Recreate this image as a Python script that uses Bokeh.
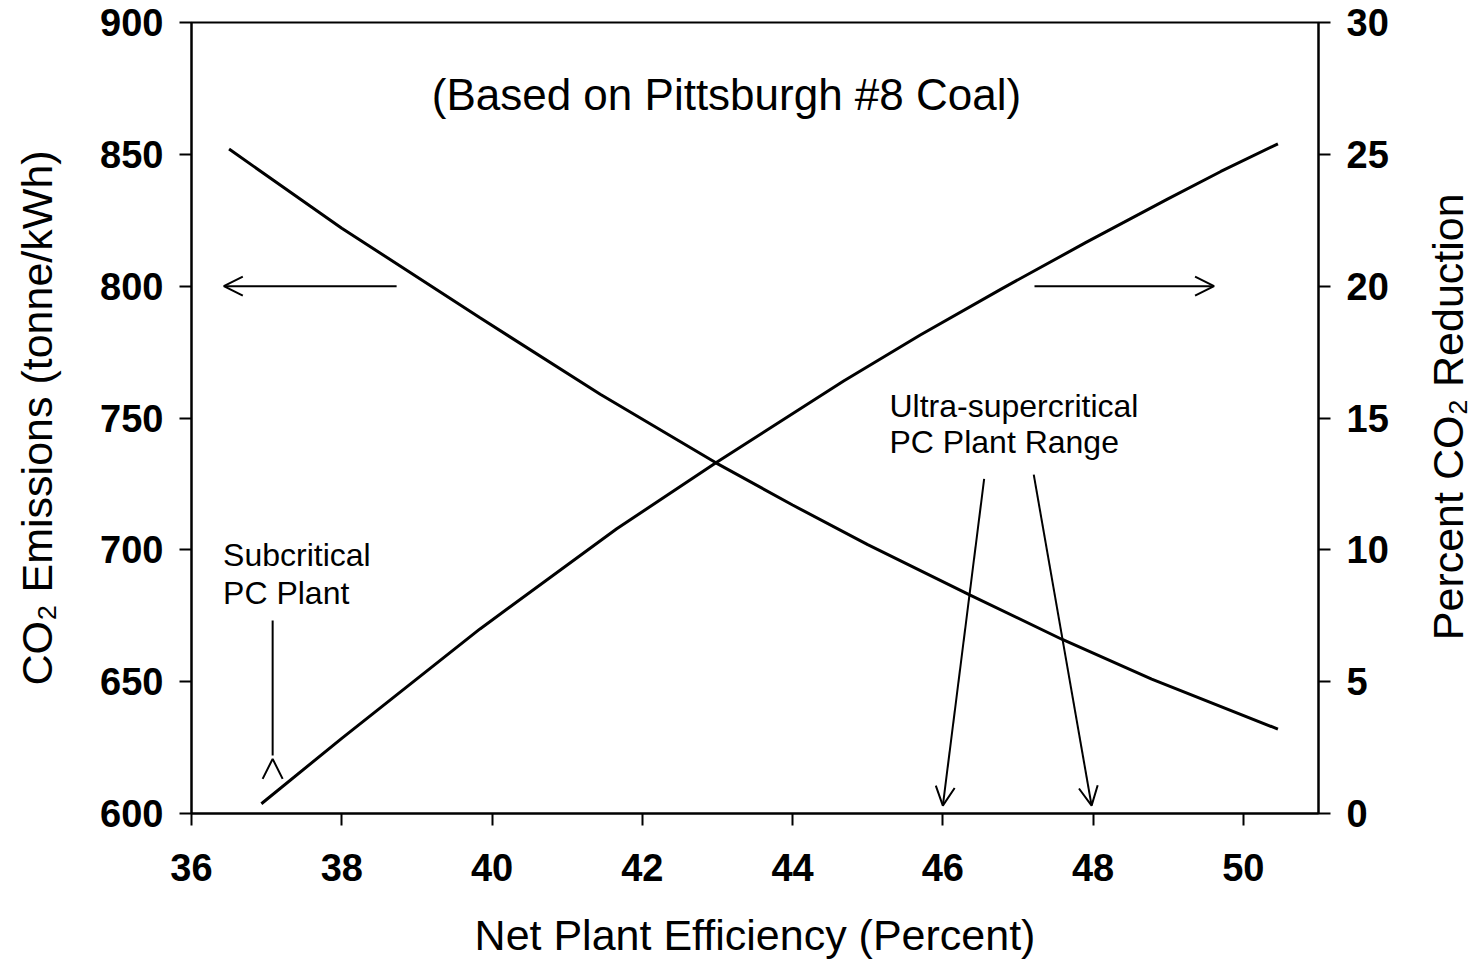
import math
from bokeh.plotting import figure
from bokeh.layouts import row
from bokeh.models import Range1d, LinearAxis, FixedTicker, Arrow, OpenHead, Label
from bokeh.embed import file_html
from bokeh.resources import INLINE

# ---- data ----
eff_emis = [36.5, 38.0, 39.84, 41.44, 42.98, 44.0, 45.0, 46.35, 47.59, 48.78, 50.46]
co2_emis = [852, 822, 788, 759, 733, 717, 702, 683, 666, 651, 632]

eff_red = [36.93, 38.0, 39.84, 41.66, 42.98, 44.68, 45.7, 46.77, 47.9, 48.99, 49.7, 50.46]
co2_red = [0.37, 2.85, 7.0, 10.8, 13.3, 16.4, 18.15, 19.88, 21.65, 23.3, 24.35, 25.4]

x_ticks = [36, 38, 40, 42, 44, 46, 48, 50]
y_left_ticks = [600, 650, 700, 750, 800, 850, 900]
y_right_ticks = [0, 5, 10, 15, 20, 25, 30]

x_title = "Net Plant Efficiency (Percent)"
y_left_title = "CO\u2082 Emissions (tonne/kWh)"
y_right_title = "Percent CO\u2082 Reduction"

# annotation anchors (data units, left axis)
left_arrow = dict(x0=38.73, x1=36.43, y=800)
right_arrow = dict(x0=47.22, x1=49.61, y=800)
sub_line = dict(x=37.08, y0=673.2, y1=622.0)
sub_head = dict(x=37.08, y0=613.8, y1=620.7)
usc_arrows = [dict(x0=46.55, y0=726.9, x1=46.0, y1=603.0),
              dict(x0=47.21, y0=728.5, x1=47.98, y1=603.0)]

FONT = "Liberation Sans"
TITLE_SIZE = "43px"
MAIN_W, SIDE_W, H = 1400, 76, 963

p = figure(width=MAIN_W, height=H, output_backend="svg", toolbar_location=None,
           x_range=Range1d(36, 51), y_range=Range1d(600, 900),
           min_border_left=191, min_border_right=MAIN_W - 1318, min_border_top=22,
           min_border_bottom=150)
p.extra_y_ranges = {"pct": Range1d(0, 30)}
p.grid.visible = False
p.outline_line_color = "black"
p.outline_line_width = 2
p.background_fill_color = "white"
p.border_fill_color = "white"

right_axis = LinearAxis(y_range_name="pct")
p.add_layout(right_axis, "right")

p.xaxis.ticker = FixedTicker(ticks=x_ticks)
p.yaxis[0].ticker = FixedTicker(ticks=y_left_ticks)
right_axis.ticker = FixedTicker(ticks=y_right_ticks)

for ax in [p.xaxis[0], p.yaxis[0], right_axis]:
    ax.axis_line_width = 2
    ax.axis_line_color = "black"
    ax.major_tick_line_width = 2
    ax.major_tick_line_color = "black"
    ax.major_tick_in = 0
    ax.major_tick_out = 12
    ax.minor_tick_line_color = None
    ax.major_label_text_font = FONT
    ax.major_label_text_font_style = "bold"
    ax.major_label_text_font_size = "38px"
    ax.major_label_text_color = "black"
    ax.major_label_standoff = 16
    ax.axis_label_text_font = FONT
    ax.axis_label_text_font_style = "normal"
    ax.axis_label_text_font_size = TITLE_SIZE
    ax.axis_label_text_color = "black"

p.xaxis[0].major_label_standoff = 28
p.xaxis[0].axis_label = x_title
p.xaxis[0].axis_label_standoff = 27
p.yaxis[0].axis_label = y_left_title
p.yaxis[0].axis_label_standoff = 36

# curves
p.line(eff_emis, co2_emis, line_color="black", line_width=3)
p.line(eff_red, co2_red, line_color="black", line_width=3, y_range_name="pct")

# arrows
def head():
    return OpenHead(size=19, line_width=2, line_color="black")

p.add_layout(Arrow(end=head(), x_start=left_arrow["x0"], x_end=left_arrow["x1"],
                   y_start=left_arrow["y"], y_end=left_arrow["y"], line_width=2))
p.add_layout(Arrow(end=head(), x_start=right_arrow["x0"], x_end=right_arrow["x1"],
                   y_start=right_arrow["y"], y_end=right_arrow["y"], line_width=2))
for a in usc_arrows:
    p.add_layout(Arrow(end=head(), x_start=a["x0"], y_start=a["y0"],
                       x_end=a["x1"], y_end=a["y1"], line_width=2))
p.line([sub_line["x"], sub_line["x"]], [sub_line["y0"], sub_line["y1"]],
       line_color="black", line_width=2)
p.add_layout(Arrow(end=OpenHead(size=20, line_width=2, line_color="black"),
                   x_start=sub_head["x"], y_start=sub_head["y0"],
                   x_end=sub_head["x"], y_end=sub_head["y1"], line_alpha=0))

# texts
def lab(x, y, t, size, align="left"):
    p.add_layout(Label(x=x, y=y, text=t, text_font=FONT, text_font_size=size,
                       text_align=align, text_baseline="alphabetic",
                       text_color="black"))

lab(43.12, 872.7, "(Based on Pittsburgh #8 Coal)", "44px", "center")
lab(36.42, 697.9, "Subcritical", "32px")
lab(36.42, 683.6, "PC Plant", "32px")
lab(45.29, 754.6, "Ultra-supercritical", "32px")
lab(45.29, 740.8, "PC Plant Range", "32px")

# narrow side panel carrying the right-hand title (reads bottom-to-top)
p2 = figure(width=SIDE_W, height=H, output_backend="svg", toolbar_location=None,
            x_range=Range1d(MAIN_W, MAIN_W + SIDE_W), y_range=Range1d(H, 0),
            x_axis_type=None, y_axis_type=None,
            min_border_left=0, min_border_right=0, min_border_top=0,
            min_border_bottom=0)
p2.outline_line_color = None
p2.background_fill_color = "white"
p2.border_fill_color = "white"
p2.add_layout(Label(x=1447, y=480, text=y_right_title, angle=math.pi / 2,
                    text_font=FONT, text_font_size=TITLE_SIZE, text_align="center",
                    text_baseline="middle", text_color="black"))

layout = row(p, p2, spacing=0)
open("out.html", "w").write(file_html(layout, INLINE))
